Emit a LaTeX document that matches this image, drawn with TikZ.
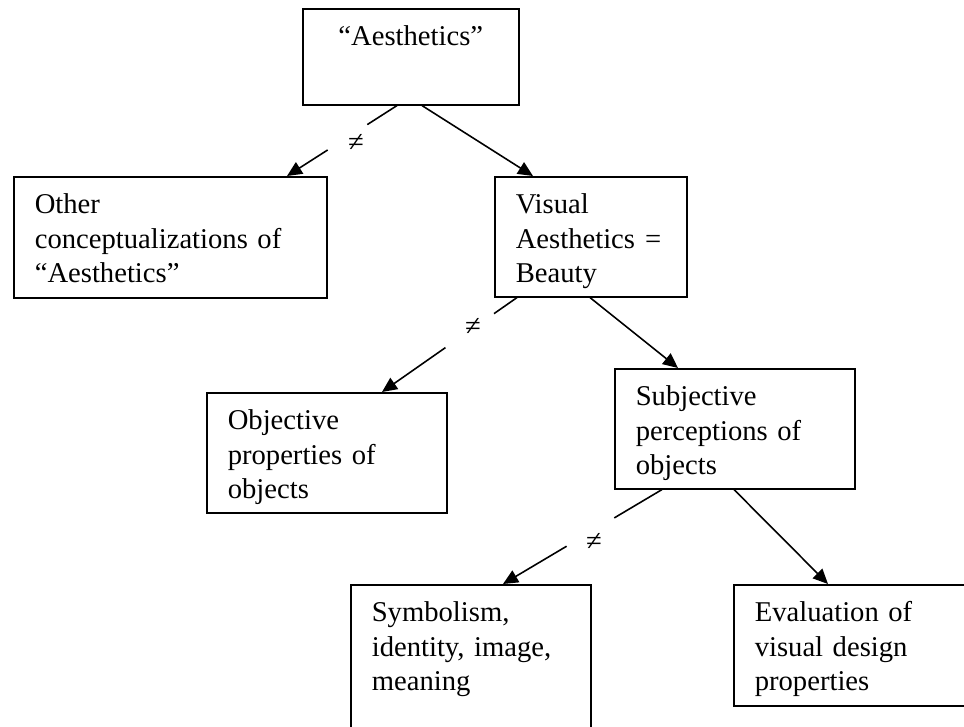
\documentclass[tikz,border=0pt]{standalone}
\usepackage{fontspec}
\setmainfont{Liberation Serif}
\usetikzlibrary{arrows.meta,calc}

\tikzset{
  box/.style={draw, line width=0.9pt, anchor=north west, align=left,
    inner xsep=0.42cm, inner ysep=0.42cm, text height=0.32cm},
  link/.style={line width=0.9pt},
  arr/.style={link, -{Triangle[length=0.3cm,width=0.27cm]}},
}

\begin{document}
\begin{tikzpicture}[x=0.02cm, y=-0.02cm, font=\fontsize{16.3pt}{19.6pt}\selectfont]
  \useasboundingbox (0,0) rectangle (964,727);
  \clip (0,0) rectangle (964,727);

  % boxes
  \node[box, align=center, text width=3.48cm, text depth=0.76cm] (aes) at (302,8) {“Aesthetics”};
  \node[box, text width=5.42cm, text depth=1.26cm] (other) at (13,176)
      {Other\\conceptualizations of\\“Aesthetics”};
  \node[box, text width=3.0cm, text depth=1.24cm] (visual) at (494,176)
      {Visual\\Aesthetics\hspace{0.35em}=\\Beauty};
  \node[box, text width=3.96cm, text depth=1.24cm] (objective) at (206,392)
      {Objective\\properties of\\objects};
  \node[box, text width=3.96cm, text depth=1.24cm] (subjective) at (614,368)
      {Subjective\\perceptions of\\objects};
  \node[box, text width=3.96cm, text depth=2.04cm] (symbol) at (350,584)
      {Symbolism,\\identity, image,\\meaning};
  \node[box, text width=3.96cm, text depth=1.26cm] (evaluation) at (733,584)
      {Evaluation of\\visual design\\properties};

  % end points on the box edges
  \coordinate (aes-l) at ($(aes.south west)+(95,0)$);
  \coordinate (aes-r) at ($(aes.south west)+(120,0)$);
  \coordinate (other-in) at ($(other.north west)+(274,0)$);
  \coordinate (visual-in) at ($(visual.north west)+(39,0)$);
  \coordinate (visual-l) at ($(visual.south west)+(23,0)$);
  \coordinate (visual-r) at ($(visual.south west)+(96,0)$);
  \coordinate (objective-in) at ($(objective.north west)+(176,0)$);
  \coordinate (subjective-in) at ($(subjective.north west)+(64,0)$);
  \coordinate (subjective-l) at ($(subjective.south west)+(48,0)$);
  \coordinate (subjective-r) at ($(subjective.south west)+(120,0)$);
  \coordinate (symbol-in) at ($(symbol.north west)+(153,0)$);
  \coordinate (evaluation-in) at ($(evaluation.north west)+(95,0)$);

  % plain arrows
  \draw[arr] (aes-r) -- (visual-in);
  \draw[arr] (visual-r) -- (subjective-in);
  \draw[arr] (subjective-r) -- (evaluation-in);

  % broken arrows with the not-equal sign
  \draw[link] (aes-l) -- ($(aes-l)!0.27!(other-in)$);
  \draw[arr] ($(aes-l)!0.63!(other-in)$) -- (other-in);
  \node (ne1) at (356,143) {≠};

  \draw[link] (visual-l) -- ($(visual-l)!0.17!(objective-in)$);
  \draw[arr] ($(visual-l)!0.53!(objective-in)$) -- (objective-in);
  \node (ne2) at (473,327) {≠};

  \draw[link] (subjective-l) -- ($(subjective-l)!0.30!(symbol-in)$);
  \draw[arr] ($(subjective-l)!0.60!(symbol-in)$) -- (symbol-in);
  \node (ne3) at (594,542) {≠};
\end{tikzpicture}
\end{document}
